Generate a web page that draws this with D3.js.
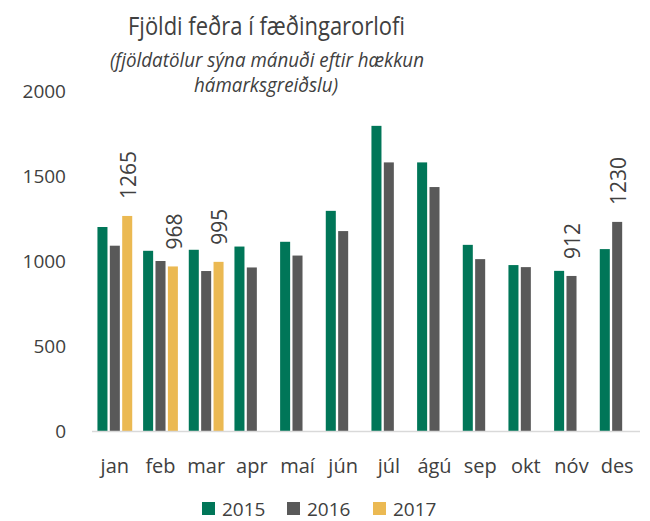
<!DOCTYPE html>
<html>
<head>
<meta charset="utf-8">
<script src="https://cdn.jsdelivr.net/npm/d3@7"></script>
<style>
  body { margin: 0; background: #fff; }
  svg text { font-family: "Segoe UI", "Open Sans", sans-serif; fill: #404040; }
</style>
</head>
<body>
<div id="chart"></div>
<script>
var months = ["jan", "feb", "mar", "apr", "maí", "jún", "júl", "ágú", "sep", "okt", "nóv", "des"];
var years = ["2015", "2016", "2017"];
var values2015 = [1200, 1060, 1066, 1085, 1113, 1295, 1795, 1580, 1095, 976, 942, 1070];
var values2016 = [1090, 1000, 941, 962, 1032, 1176, 1580, 1435, 1011, 964, 912, 1230];
var values2017 = [1265, 968, 995, null, null, null, null, null, null, null, null, null];
var yTicks = [0, 500, 1000, 1500, 2000];
// bars that get a value label
var labelled = [
    {month: "jan", year: "2017"},
    {month: "feb", year: "2017"},
    {month: "mar", year: "2017"},
    {month: "nóv", year: "2016"},
    {month: "des", year: "2016"}
];
var colors = {"2015": "#007658", "2016": "#595959", "2017": "#ebb952"};

var width = 650, height = 521;
var series = {"2015": values2015, "2016": values2016, "2017": values2017};

var svg = d3.select("#chart").append("svg")
    .attr("width", width)
    .attr("height", height);

// title, squeezed a bit since Segoe UI is not here
svg.append("text")
    .attr("x", 128)
    .attr("y", 35)
    .attr("textLength", 277)
    .attr("lengthAdjust", "spacingAndGlyphs")
    .style("font-size", "25px")
    .text("Fjöldi feðra í fæðingarorlofi");
svg.append("text")
    .attr("x", 110)
    .attr("y", 67)
    .attr("textLength", 314)
    .attr("lengthAdjust", "spacingAndGlyphs")
    .style("font-size", "20px")
    .style("font-style", "italic")
    .text("(fjöldatölur sýna mánuði eftir hækkun");
svg.append("text")
    .attr("x", 194)
    .attr("y", 92)
    .attr("textLength", 144)
    .attr("lengthAdjust", "spacingAndGlyphs")
    .style("font-size", "20px")
    .style("font-style", "italic")
    .text("hámarksgreiðslu)");

var x0 = d3.scaleBand().domain(months).range([92, 640]).padding(0);
var x1 = d3.scaleBand().domain(years).range([0, x0.bandwidth()])
    .paddingInner(0.19).paddingOuter(0.44);
var y = d3.scaleLinear().domain([0, 2000]).range([431, 91]);

// y axis labels (no line, no ticks)
svg.append("g").selectAll("text")
    .data(yTicks)
    .enter().append("text")
    .attr("x", 66)
    .attr("y", function (d) { return y(d); })
    .attr("dy", "0.35em")
    .attr("text-anchor", "end")
    .style("font-size", "19px")
    .text(function (d) { return d; });

// bars
var groups = svg.append("g").selectAll("g")
    .data(months)
    .enter().append("g")
    .attr("transform", function (d) { return "translate(" + x0(d) + ",0)"; });

groups.selectAll("rect")
    .data(function (m, i) {
        return years.map(function (yr) { return {year: yr, value: series[yr][i]}; })
            .filter(function (d) { return d.value != null; });
    })
    .enter().append("rect")
    .attr("x", function (d) { return x1(d.year); })
    .attr("y", function (d) { return y(d.value); })
    .attr("width", x1.bandwidth())
    .attr("height", function (d) { return y(0) - y(d.value); })
    .style("fill", function (d) { return colors[d.year]; });

// x axis line
svg.append("line")
    .attr("x1", 92).attr("x2", 640)
    .attr("y1", y(0) + 0.5).attr("y2", y(0) + 0.5)
    .style("stroke", "#d9d9d9")
    .style("stroke-width", 1.5);

// x labels
svg.append("g").selectAll("text")
    .data(months)
    .enter().append("text")
    .attr("x", function (d) { return x0(d) + x0.bandwidth() / 2; })
    .attr("y", 473)
    .attr("text-anchor", "middle")
    .style("font-size", "20px")
    .text(function (d) { return d; });

// value labels, rotated
svg.append("g").selectAll("text")
    .data(labelled)
    .enter().append("text")
    .attr("transform", function (d) {
        var v = series[d.year][months.indexOf(d.month)];
        var cx = x0(d.month) + x1(d.year) + x1.bandwidth() / 2 + 1.5;
        var cy = y(v) - 17;
        return "translate(" + cx + "," + cy + ") rotate(-90)";
    })
    .attr("dy", "0.35em")
    .attr("text-anchor", "start")
    .style("font-size", "21px")
    .text(function (d) { return series[d.year][months.indexOf(d.month)]; });

// legend
var legendX = [202, 287, 373];
var legend = svg.append("g").selectAll("g")
    .data(years)
    .enter().append("g")
    .attr("transform", function (d, i) { return "translate(" + legendX[i] + ",502)"; });
legend.append("rect")
    .attr("width", 13)
    .attr("height", 13)
    .style("fill", function (d) { return colors[d]; });
legend.append("text")
    .attr("x", 20)
    .attr("y", 14)
    .style("font-size", "19px")
    .text(function (d) { return d; });
</script>
</body>
</html>
